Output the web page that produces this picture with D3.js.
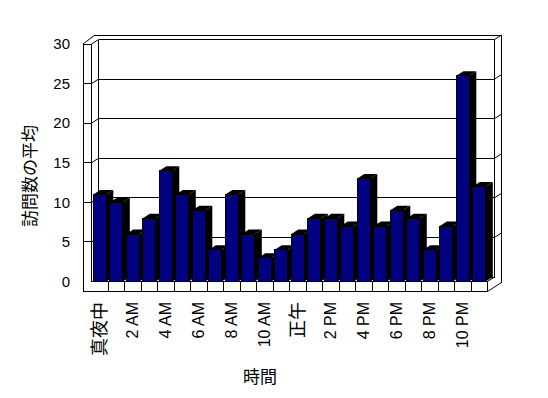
<!DOCTYPE html>
<html>
<head>
<meta charset="utf-8">
<script src="https://cdn.jsdelivr.net/npm/d3@7.9.0/dist/d3.min.js"></script>
<style>
  body { margin: 0; background: #fff; }
  svg { display: block; font-family: "Liberation Sans", "Noto Sans CJK JP", sans-serif; }
  .frame line, .frame path { stroke: #000; stroke-width: 1; fill: none; }
</style>
</head>
<body>
<svg id="chart" width="548" height="398"></svg>
<script>
// hours of the day, only every other one gets a label
const hours = ["真夜中", "1 AM", "2 AM", "3 AM", "4 AM", "5 AM", "6 AM", "7 AM", "8 AM", "9 AM", "10 AM", "11 AM",
  "正午", "1 PM", "2 PM", "3 PM", "4 PM", "5 PM", "6 PM", "7 PM", "8 PM", "9 PM", "10 PM", "11 PM"];
// average visits per hour
const visits = [11, 10, 6, 8, 14, 11, 9, 4, 11, 6, 3, 4, 6, 8, 8, 7, 13, 7, 9, 8, 4, 7, 26, 12];
const yTicks = [0, 5, 10, 15, 20, 25, 30];

const yTitle = "訪問数の平均";
const xTitle = "時間";

// layout of the fake 3d box
const boxLeft = 91.5, boxRight = 487.5, boxBottom = 281.5, boxTop = 44;
const dx = 7, dy = -4.5;   // depth offset
const wallW = 8.5;         // thickness of side wall
const floorH = 10;         // thickness of floor

const svg = d3.select("#chart");

const x = d3.scaleBand().domain(d3.range(hours.length)).range([boxLeft, boxRight]);
const y = d3.scaleLinear().domain([0, 30]).range([boxBottom, boxTop]);

const frame = svg.append("g").attr("class", "frame");
const line = (x1, y1, x2, y2) => frame.append("line")
  .attr("x1", x1).attr("y1", y1).attr("x2", x2).attr("y2", y2);

// back wall gridlines
yTicks.forEach(t => {
  line(boxLeft + dx, y(t) + dy, boxRight + dx, y(t) + dy).attr("shape-rendering", "crispEdges");
});
line(boxLeft + dx, y(30) + dy, boxLeft + dx, y(0) + dy).attr("shape-rendering", "crispEdges");
line(boxRight + dx, y(30) + dy, boxRight + dx, y(0) + dy).attr("shape-rendering", "crispEdges");

// back wall thickness (top + right side)
line(boxLeft - wallW + 12, boxTop + 2 * dy, boxRight + 2 * dx, boxTop + 2 * dy).attr("shape-rendering", "crispEdges");
line(boxRight + 2 * dx, boxTop + 2 * dy, boxRight + 2 * dx, boxBottom + floorH + 2 * dy).attr("shape-rendering", "crispEdges");
yTicks.filter(t => t > 0).forEach(t => {
  line(boxRight + dx, y(t) + dy, boxRight + 2 * dx, y(t) + 2 * dy);
});

// side wall
line(boxLeft - wallW, boxTop, boxLeft - wallW, boxBottom + floorH).attr("shape-rendering", "crispEdges");
line(boxLeft, boxTop, boxLeft, boxBottom).attr("shape-rendering", "crispEdges");
line(boxLeft - wallW, boxTop, boxLeft, boxTop).attr("shape-rendering", "crispEdges");
line(boxLeft - wallW, boxTop, boxLeft - wallW + 12, boxTop + 2 * dy);
yTicks.filter(t => t > 0).forEach(t => {
  if (t < 30) line(boxLeft - wallW, y(t), boxLeft, y(t)).attr("shape-rendering", "crispEdges");
  line(boxLeft, y(t), boxLeft + dx, y(t) + dy);
});

// floor front face
line(boxLeft, boxBottom, boxRight, boxBottom).attr("shape-rendering", "crispEdges");
line(boxLeft - wallW, boxBottom + floorH, boxRight, boxBottom + floorH).attr("shape-rendering", "crispEdges");
d3.range(1, hours.length + 1).forEach(i => {
  const xx = i < hours.length ? x(i) : boxRight;
  line(xx, boxBottom, xx, boxBottom + floorH).attr("shape-rendering", "crispEdges");
});
line(boxRight, boxBottom + floorH, boxRight + 2 * dx, boxBottom + floorH + 2 * dy);
line(boxRight, boxBottom, boxRight + dx, boxBottom + dy);

// bars, drawn left to right so each front covers the previous side
const barOff = 1.8, barW = 13;
const bars = svg.append("g");
visits.forEach((v, i) => {
  const x0 = x(i) + barOff, x1 = x0 + barW, yv = y(v), y0 = y(0);
  const g = bars.append("g");
  g.append("path")
    .attr("d", `M${x0},${yv}L${x0 + dx},${yv + dy}L${x1 + dx},${yv + dy}L${x1},${yv}Z`)
    .attr("fill", "#000");
  g.append("path")
    .attr("d", `M${x1},${yv}L${x1 + dx},${yv + dy}L${x1 + dx},${y0 + dy}L${x1},${y0}Z`)
    .attr("fill", "#000");
  g.append("rect")
    .attr("x", x0).attr("y", yv)
    .attr("width", barW).attr("height", y0 - yv)
    .attr("fill", "#000080")
    .attr("stroke", "#000")
    .attr("stroke-width", 1)
    .attr("shape-rendering", "crispEdges");
});

// y tick labels
svg.append("g").selectAll("text")
  .data(yTicks)
  .join("text")
  .attr("x", 70)
  .attr("y", d => y(d))
  .attr("dy", "0.35em")
  .attr("text-anchor", "end")
  .attr("font-size", 15)
  .text(d => d);

// x tick labels, every other hour, rotated
svg.append("g").selectAll("text")
  .data(hours.map((h, i) => ({ h, i })).filter(d => d.i % 2 === 0))
  .join("text")
  .attr("transform", d => `translate(${x(d.i) + x.bandwidth() / 2},302) rotate(-90)`)
  .attr("dy", "0.35em")
  .attr("text-anchor", "end")
  .attr("font-size", d => /[A-Z]/.test(d.h) ? 16 : 18)
  .text(d => d.h);

// axis titles
svg.append("text")
  .attr("transform", "translate(30,176) rotate(-90)")
  .attr("dy", "0.35em")
  .attr("text-anchor", "middle")
  .attr("font-size", 17)
  .text(yTitle);

svg.append("text")
  .attr("x", 260)
  .attr("y", 377)
  .attr("dy", "0.35em")
  .attr("text-anchor", "middle")
  .attr("font-size", 17)
  .text(xTitle);
</script>
</body>
</html>
